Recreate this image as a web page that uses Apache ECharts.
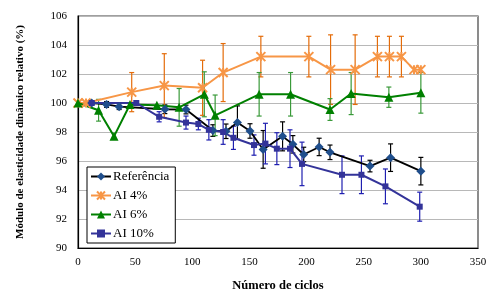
<!DOCTYPE html>
<html>
<head>
<meta charset="utf-8">
<script src="https://cdn.jsdelivr.net/npm/echarts@6/dist/echarts.min.js"></script>
<style>
  html, body { margin: 0; padding: 0; background: #fff; }
  #chart { width: 488px; height: 293px; }
</style>
</head>
<body>
<div id="chart"></div>
<script>
// valores
var refX = [12, 25, 36, 76, 94.5, 118, 129.5, 139.5, 150.5, 162, 179, 188, 197.5, 211, 220.5, 255.5, 273.5, 300];
var refY = [100, 99.9, 99.75, 99.57, 99.55, 98.1, 98.05, 98.65, 98.07, 96.8, 97.7, 97.15, 96.45, 96.97, 96.6, 95.65, 96.23, 95.3];
var refErr = [0.1, 0.2, 0.2, 0.3, 0.3, 0.4, 0.5, 1.15, 0.5, 1.3, 1.0, 0.6, 0.5, 0.6, 0.5, 0.4, 0.95, 0.95];

var ai4X = [0, 7, 47, 75.5, 109, 127, 160, 202, 221, 242.5, 262, 272.5, 283, 294, 300];
var ai4Y = [100, 100, 100.75, 101.2, 101.05, 102.1, 103.2, 103.2, 102.3, 102.3, 103.2, 103.2, 103.2, 102.3, 102.3];
var ai4Err = [0, 0, 1.35, 2.2, 1.9, 2.0, 1.4, 1.4, 2.4, 2.4, 1.4, 1.4, 1.4, 0, 0];

var ai6X = [0, 18, 31.5, 45.5, 69, 88.5, 110.5, 120, 158.5, 186, 220.5, 239, 272, 300];
var ai6Y = [100, 99.5, 97.7, 99.9, 99.85, 99.7, 100.6, 99.15, 100.6, 100.6, 99.55, 100.65, 100.4, 100.7];
var ai6Err = [0, 0.75, 0, 0, 0, 1.3, 1.55, 1.4, 1.5, 1.5, 0.75, 1.45, 0.7, 1.4];

var ai10X = [12, 51, 71, 94.5, 105.3, 114.5, 127, 136, 154, 164, 174, 185.5, 196, 231, 248, 269, 299];
var ai10Y = [100, 100, 99.05, 98.65, 98.55, 98.15, 98.0, 97.6, 97.1, 97.2, 96.85, 96.85, 95.8, 95.05, 95.05, 94.25, 92.85];
var ai10Err = [0, 0, 0.35, 0.45, 0.4, 0.7, 0.85, 0.8, 0.7, 1.4, 1.1, 1.3, 1.5, 1.3, 1.3, 1.2, 1.0];

var xTicks = [0, 50, 100, 150, 200, 250, 300, 350];
var yTicks = [90, 92, 94, 96, 98, 100, 102, 104, 106];

var serif = 'Liberation Serif';

function pontos(xs, ys) {
  var arr = [];
  for (var i = 0; i < xs.length; i++) arr.push([xs[i], ys[i]]);
  return arr;
}

function barras(xs, ys, es) {
  var arr = [];
  for (var i = 0; i < xs.length; i++) {
    if (es[i] > 0) arr.push([xs[i], ys[i] - es[i], ys[i] + es[i]]);
  }
  return arr;
}

function erroSerie(xs, ys, es, cor) {
  return {
    type: 'custom',
    silent: true,
    data: barras(xs, ys, es),
    encode: { x: 0, y: [1, 2] },
    renderItem: function (params, api) {
      var lo = api.coord([api.value(0), api.value(1)]);
      var hi = api.coord([api.value(0), api.value(2)]);
      var w = 2.5;
      var st = { stroke: cor, lineWidth: 1.2 };
      return {
        type: 'group',
        children: [
          { type: 'line', shape: { x1: lo[0], y1: lo[1], x2: hi[0], y2: hi[1] }, style: st },
          { type: 'line', shape: { x1: lo[0] - w, y1: lo[1], x2: lo[0] + w, y2: lo[1] }, style: st },
          { type: 'line', shape: { x1: hi[0] - w, y1: hi[1], x2: hi[0] + w, y2: hi[1] }, style: st }
        ]
      };
    }
  };
}

var myChart = echarts.init(document.getElementById('chart'));
var option = {
  animation: false,
  backgroundColor: '#fff',
  grid: {
    left: 78, right: 10, top: 16, bottom: 45,
    outerBoundsMode: 'none',
    containLabel: false,
    show: true, borderColor: '#404040', borderWidth: 1.2
  },
  legend: {
    orient: 'vertical',
    left: 87, top: 167,
    padding: [3, 6, 3, 3],
    itemWidth: 20, itemHeight: 10, itemGap: 6,
    backgroundColor: '#fff',
    borderColor: '#000', borderWidth: 1,
    textStyle: { fontFamily: serif, fontSize: 13, color: '#000', padding: [0, 0, 0, -3] },
    data: ['Referência', 'AI 4%', 'AI 6%', 'AI 10%']
  },
  xAxis: {
    type: 'value',
    min: 0, max: 350, interval: 50,
    name: 'Número de ciclos',
    nameLocation: 'middle',
    nameGap: 31,
    nameTextStyle: { fontFamily: serif, fontSize: 12.5, fontWeight: 'bold', color: '#000' },
    axisLine: { lineStyle: { color: '#000', width: 1.2 } },
    axisTick: { show: false },
    splitLine: { show: false },
    axisLabel: {
      fontFamily: serif, fontSize: 11, color: '#000', margin: 9,
      formatter: function (v) { return xTicks.indexOf(v) >= 0 ? String(v) : ''; }
    }
  },
  yAxis: {
    type: 'value',
    min: 90, max: 106, interval: 2,
    name: 'Módulo de elasticidade dinâmico relativo (%)',
    nameLocation: 'middle',
    nameGap: 52,
    nameTextStyle: { fontFamily: serif, fontSize: 11, fontWeight: 'bold', color: '#000' },
    axisLine: { show: true, lineStyle: { color: '#000', width: 1.2 } },
    axisTick: { show: false },
    splitLine: { lineStyle: { color: '#b8b8b8', width: 1.2 } },
    axisLabel: {
      fontFamily: serif, fontSize: 11, color: '#000', margin: 11,
      formatter: function (v) { return yTicks.indexOf(v) >= 0 ? String(v) : ''; }
    }
  },
  series: [
    erroSerie(refX, refY, refErr, '#000'),
    erroSerie(ai4X, ai4Y, ai4Err, '#E46C0A'),
    erroSerie(ai6X, ai6Y, ai6Err, '#3A9A3A'),
    erroSerie(ai10X, ai10Y, ai10Err, '#1F1FB0'),
    {
      name: 'AI 4%', type: 'line', data: pontos(ai4X, ai4Y),
      symbol: 'path://M0,0L10,10M10,0L0,10M5,0L5,10', symbolSize: 9,
      itemStyle: { color: '#F79646', borderColor: '#F79646', borderWidth: 2 },
      lineStyle: { color: '#F79646', width: 2 }
    },
    {
      name: 'AI 6%', type: 'line', data: pontos(ai6X, ai6Y),
      symbol: 'triangle', symbolSize: 9,
      itemStyle: { color: '#008000', borderColor: '#008000', borderWidth: 0 },
      lineStyle: { color: '#008000', width: 2 }
    },
    {
      name: 'Referência', type: 'line', data: pontos(refX, refY),
      symbol: 'diamond', symbolSize: 9,
      itemStyle: { color: '#1F4E8C', borderColor: '#1F4E8C', borderWidth: 0 },
      lineStyle: { color: '#000', width: 1.8 }
    },
    {
      name: 'AI 10%', type: 'line', data: pontos(ai10X, ai10Y),
      symbol: 'rect', symbolSize: 6,
      itemStyle: { color: '#333399', borderColor: '#333399', borderWidth: 0 },
      lineStyle: { color: '#333399', width: 2 }
    }
  ]
};

myChart.setOption(option);
</script>
</body>
</html>
